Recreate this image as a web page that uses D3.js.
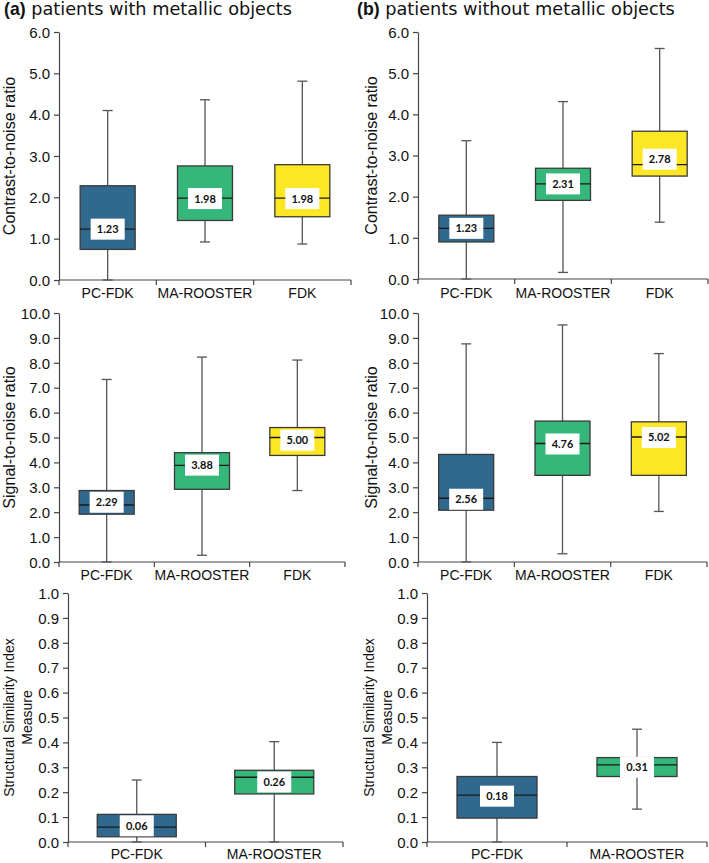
<!DOCTYPE html>
<meta charset="utf-8">
<style>
  body { margin: 0; background: #fff; }
  text { font-family: "Liberation Sans", Arial, Helvetica, sans-serif; fill: #111; }
  .title { font-family: "DejaVu Sans", Verdana, sans-serif; font-size: 17.7px; }
  .title .tag { font-family: "Liberation Sans", Arial, sans-serif; font-weight: bold; }
  .axis path, .axis line { stroke: #444; stroke-width: 1.2; }
  .axis text { font-size: 15px; fill: #111; }
  .cat { font-size: 14px; }
  .lab { font-family: Lato, "Open Sans", sans-serif; font-weight: bold; font-size: 11px; }
</style>
<script src="https://d3js.org/d3.v7.min.js"></script>
<body>
<script>

// categories
var cats3 = ["PC-FDK", "MA-ROOSTER", "FDK"];
var cats2 = ["PC-FDK", "MA-ROOSTER"];
var colors = {"PC-FDK": "#31688e", "MA-ROOSTER": "#35b779", "FDK": "#fde725"};

// box stats: min, q1, median, q3, max, printed label, label anchor
var cnrWith = [
  {min: 0.00, q1: 0.74, med: 1.23, q3: 2.28, max: 4.10, label: "1.23", at: 1.23},
  {min: 0.92, q1: 1.44, med: 1.98, q3: 2.76, max: 4.36, label: "1.98", at: 1.97},
  {min: 0.87, q1: 1.53, med: 1.98, q3: 2.79, max: 4.81, label: "1.98", at: 1.97}
];
var cnrWithout = [
  {min: 0.00, q1: 0.90, med: 1.23, q3: 1.55, max: 3.36, label: "1.23", at: 1.23},
  {min: 0.16, q1: 1.91, med: 2.31, q3: 2.69, max: 4.31, label: "2.31", at: 2.31},
  {min: 1.38, q1: 2.50, med: 2.78, q3: 3.59, max: 5.60, label: "2.78", at: 2.91}
];
var snrWith = [
  {min: 0.00, q1: 1.92, med: 2.29, q3: 2.87, max: 7.33, label: "2.29", at: 2.40},
  {min: 0.27, q1: 2.92, med: 3.88, q3: 4.39, max: 8.23, label: "3.88", at: 3.89},
  {min: 2.87, q1: 4.28, med: 5.00, q3: 5.40, max: 8.11, label: "5.00", at: 4.89}
];
var snrWithout = [
  {min: 0.00, q1: 2.08, med: 2.56, q3: 4.32, max: 8.76, label: "2.56", at: 2.52},
  {min: 0.33, q1: 3.48, med: 4.76, q3: 5.66, max: 9.52, label: "4.76", at: 4.74},
  {min: 2.03, q1: 3.48, med: 5.02, q3: 5.63, max: 8.37, label: "5.02", at: 5.00}
];
var ssimWith = [
  {min: 0.000, q1: 0.021, med: 0.060, q3: 0.111, max: 0.249, label: "0.06", at: 0.065},
  {min: 0.000, q1: 0.193, med: 0.260, q3: 0.288, max: 0.403, label: "0.26", at: 0.241}
];
var ssimWithout = [
  {min: 0.000, q1: 0.096, med: 0.188, q3: 0.263, max: 0.400, label: "0.18", at: 0.184},
  {min: 0.132, q1: 0.263, med: 0.310, q3: 0.339, max: 0.453, label: "0.31", at: 0.300}
];

var width = 709, height = 863;
var svg = d3.select("body").append("svg").attr("width", width).attr("height", height);

// titles
var t1 = svg.append("text").attr("class", "title").attr("x", 4).attr("y", 15);
t1.append("tspan").attr("class", "tag").text("(a)");
t1.append("tspan").text(" patients with metallic objects");
var t2 = svg.append("text").attr("class", "title").attr("x", 357).attr("y", 15);
t2.append("tspan").attr("class", "tag").text("(b)");
t2.append("tspan").text(" patients without metallic objects");

var panels = [
  {data: cnrWith, cats: cats3, max: 6, step: 1, x0: 59, x1: 351, top: 32, bottom: 280, catY: 293,
   ylab: ["Contrast-to-noise ratio"], labX: 9, labSize: 16, bw: 55},
  {data: cnrWithout, cats: cats3, max: 6, step: 1, x0: 418, x1: 708, top: 32, bottom: 279, catY: 293,
   ylab: ["Contrast-to-noise ratio"], labX: 371, labSize: 16, bw: 55},
  {data: snrWith, cats: cats3, max: 10, step: 1, x0: 59, x1: 345, top: 313, bottom: 562, catY: 575,
   ylab: ["Signal-to-noise ratio"], labX: 9, labSize: 16, bw: 55},
  {data: snrWithout, cats: cats3, max: 10, step: 1, x0: 418, x1: 707, top: 313, bottom: 562, catY: 575,
   ylab: ["Signal-to-noise ratio"], labX: 371, labSize: 16, bw: 55},
  {data: ssimWith, cats: cats2, max: 1, step: 0.1, x0: 68, x1: 343, top: 593, bottom: 842, catY: 854,
   ylab: ["Structural Similarity Index", "Measure"], labX: 9, labSize: 14, bw: 79},
  {data: ssimWithout, cats: cats2, max: 1, step: 0.1, x0: 427, x1: 707, top: 593, bottom: 842, catY: 854,
   ylab: ["Structural Similarity Index", "Measure"], labX: 369, labSize: 14, bw: 80}
];

panels.forEach(function(p) {
  var g = svg.append("g");
  var y = d3.scaleLinear().domain([0, p.max]).range([p.bottom, p.top]);
  var x = d3.scaleBand().domain(p.cats).range([p.x0, p.x1]);

  // y axis
  var ticks = d3.range(0, p.max + p.step / 2, p.step);
  g.append("g").attr("class", "axis")
    .attr("transform", "translate(" + p.x0 + ",0)")
    .call(d3.axisLeft(y).tickValues(ticks).tickFormat(d3.format(".1f")).tickSize(5).tickSizeOuter(0).tickPadding(4))
    .selectAll("text").attr("dy", "0.35em").attr("y", 0);

  // x axis: baseline and separator ticks
  var xa = g.append("g").attr("class", "axis");
  xa.append("line").attr("x1", p.x0).attr("x2", p.x1).attr("y1", p.bottom).attr("y2", p.bottom);
  var seps = p.cats.map(function(c) { return x(c); }).concat([x.range()[1]]);
  xa.selectAll(".sep").data(seps).enter().append("line")
    .attr("x1", function(d) { return d; }).attr("x2", function(d) { return d; })
    .attr("y1", p.bottom).attr("y2", p.bottom + 5);
  g.selectAll(".cat").data(p.cats).enter().append("text")
    .attr("class", "cat")
    .attr("x", function(d) { return x(d) + x.bandwidth() / 2; })
    .attr("y", p.catY).attr("dy", "0.35em").attr("text-anchor", "middle")
    .text(function(d) { return d; });

  // y label
  var lab = g.append("text")
    .attr("transform", "translate(" + p.labX + "," + (p.top + p.bottom) / 2 + ") rotate(-90)")
    .attr("text-anchor", "middle").style("font-size", p.labSize + "px");
  p.ylab.forEach(function(s, i) {
    lab.append("tspan").attr("x", 0).attr("y", i * 18).attr("dy", "0.35em").text(s);
  });

  // boxes
  var b = g.selectAll(".box").data(p.data).enter().append("g")
    .attr("transform", function(d, i) { return "translate(" + (x(p.cats[i]) + x.bandwidth() / 2) + ",0)"; });
  var hw = p.bw / 2;
  b.append("line").attr("x1", 0).attr("x2", 0)
    .attr("y1", function(d) { return y(d.min); }).attr("y2", function(d) { return y(d.max); })
    .attr("stroke", "#555").attr("stroke-width", 1.3);
  b.append("line").attr("x1", -5).attr("x2", 5)
    .attr("y1", function(d) { return y(d.max); }).attr("y2", function(d) { return y(d.max); })
    .attr("stroke", "#555").attr("stroke-width", 1.3);
  b.append("line").attr("x1", -5).attr("x2", 5)
    .attr("y1", function(d) { return y(d.min); }).attr("y2", function(d) { return y(d.min); })
    .attr("stroke", "#555").attr("stroke-width", 1.3);
  b.append("rect").attr("x", -hw).attr("width", p.bw)
    .attr("y", function(d) { return y(d.q3); })
    .attr("height", function(d) { return y(d.q1) - y(d.q3); })
    .attr("fill", function(d, i) { return colors[p.cats[i]]; })
    .attr("stroke", "#3a3a3a").attr("stroke-width", 1.3);
  b.append("line").attr("x1", -hw).attr("x2", hw)
    .attr("y1", function(d) { return y(d.med); }).attr("y2", function(d) { return y(d.med); })
    .attr("stroke", "#1a1a1a").attr("stroke-width", 1.3);
  b.append("rect").attr("x", -17).attr("width", 34).attr("height", 21)
    .attr("y", function(d) { return y(d.at) - 10.5; })
    .attr("fill", "#fff");
  b.append("text").attr("class", "lab").attr("text-anchor", "middle")
    .attr("y", function(d) { return y(d.at); }).attr("dy", "0.36em")
    .text(function(d) { return d.label; });
});

</script>
</body>
